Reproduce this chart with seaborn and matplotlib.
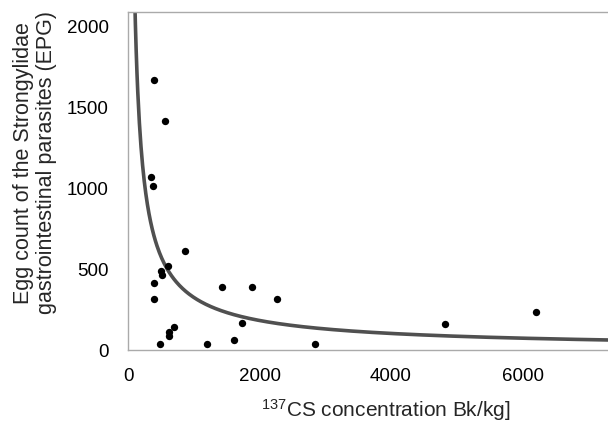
import numpy as np
import pandas as pd
import matplotlib
matplotlib.use("Agg")
import matplotlib.pyplot as plt
import seaborn as sns

# Data
cs_concentration = [400, 562, 349, 380, 870, 612, 497, 512, 395, 1428, 1879, 395,
                    2263, 1732, 694, 618, 623, 481, 1200, 1615, 2841, 4820, 6198]
egg_count = [1669, 1418, 1068, 1014, 615, 517, 491, 462, 414, 391, 391, 315,
             315, 166, 141, 114, 87, 35, 39, 62, 39, 163, 236]

# Power trendline y = a * x^b
trend_a = 103400.0
trend_b = -0.834

x_ticks = [0, 2000, 4000, 6000]
y_ticks = [0, 500, 1000, 1500, 2000]

sns.set_theme(style="white")
plt.rcParams['font.family'] = ['Liberation Sans', 'DejaVu Sans']
plt.rcParams['mathtext.fontset'] = 'custom'
plt.rcParams['mathtext.rm'] = 'Liberation Sans'
plt.rcParams['mathtext.it'] = 'Liberation Sans'

fig = plt.figure(figsize=(6.08, 4.23), dpi=100)
ax = fig.add_axes([128/608, 1-350/423, 1-128/608, (350-12)/423])

df = pd.DataFrame({"cs": cs_concentration, "epg": egg_count})
tx = np.linspace(100, 7400, 600)
tdf = pd.DataFrame({"cs": tx, "epg": trend_a * tx ** trend_b})
sns.lineplot(data=tdf, x="cs", y="epg", ax=ax, color="#505050", linewidth=2.6, zorder=2)
sns.scatterplot(data=df, x="cs", y="epg", ax=ax, color="black", s=28, edgecolor="black",
                linewidth=0, zorder=3)

ax.set_xlim(0, 7300)
ax.set_ylim(0, 2091)
ax.set_xticks(x_ticks)
ax.set_yticks(y_ticks)
ax.tick_params(axis='both', labelsize=13.5, length=0, colors='black')
ax.tick_params(axis='x', pad=13)
ax.tick_params(axis='y', pad=14)
ax.set_xlabel("")
ax.set_ylabel("")
for side in ["left", "bottom", "top"]:
    ax.spines[side].set_color("#aaaaaa")
    ax.spines[side].set_linewidth(1.0)
ax.spines["right"].set_visible(False)

fig.text(35/608, 1-163/423, "Egg count of the Strongylidae\ngastrointestinal parasites (EPG)",
         rotation=90, ha='center', va='center', fontsize=15.5, multialignment='center',
         linespacing=1.15)
fig.text(386/608, 1-410/423, r"$^{137}$CS concentration Bk/kg]", ha='center', va='center',
         fontsize=15)

fig.savefig("out.png", dpi=100)
